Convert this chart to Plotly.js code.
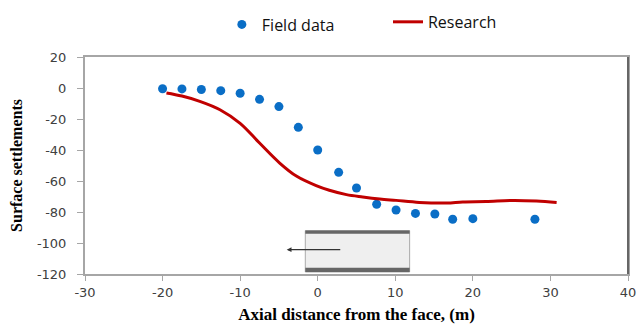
<!DOCTYPE html>
<html><head><meta charset="utf-8">
<script src="https://cdn.plot.ly/plotly-3.0.1.min.js"></script>
<style>html,body{margin:0;padding:0;background:#fff}#chart{width:638px;height:325px}</style>
</head><body><div id="chart"></div>
<script>
// Field data
var fieldX = [-20, -17.5, -15, -12.5, -10, -7.5, -5, -2.5, 0, 2.7, 5, 7.6, 10.1, 12.6, 15.1, 17.4, 20, 28];
var fieldY = [-0.5, -0.6, -1, -1.7, -3.4, -7.3, -12, -25.4, -40, -54.4, -64.5, -75, -78.7, -80.9, -81.3, -84.7, -84.3, -84.7];
// Research curve
var resX = [-19.5, -17.5, -15.2, -12.6, -10, -7.5, -4.9, -2.7, -0.2, 1.5, 3.7, 5.8, 8, 10.1, 13.1, 16.6, 18.7, 21.7, 25.2, 28.2, 30.8];
var resY = [-3.2, -5.2, -8.6, -14, -22.8, -35.5, -48.4, -57, -63, -66, -68.8, -70.3, -71.6, -72.5, -73.8, -74.2, -73.5, -73.2, -72.5, -72.9, -73.8];
var xTicks = [-30, -20, -10, 0, 10, 20, 30, 40];
var yTicks = [20, 0, -20, -40, -60, -80, -100, -120];

var traces = [
  {x: fieldX, y: fieldY, type: 'scatter', mode: 'markers', name: 'Field data',
   marker: {color: '#0A6EC6', size: 9}, legend: 'legend'},
  {x: resX, y: resY, type: 'scatter', mode: 'lines', name: 'Research',
   line: {color: '#C00000', width: 3, shape: 'spline'}, legend: 'legend2'}
];

var tickFont = {family: 'DejaVu Sans', size: 13, color: '#404040'};
var legFont = {family: 'Open Sans', size: 16, color: '#111'};
var layout = {
  width: 638, height: 325,
  margin: {l: 85, r: 10, t: 57, b: 51, autoexpand: false},
  paper_bgcolor: '#fff', plot_bgcolor: '#fff',
  showlegend: true,
  legend: {x: 0.252, y: 1.228, xanchor: 'left', yanchor: 'top', orientation: 'h',
           font: legFont, bgcolor: 'rgba(0,0,0,0)', itemwidth: 30},
  legend2: {x: 0.558, y: 1.24, xanchor: 'left', yanchor: 'top', orientation: 'h',
           font: legFont, bgcolor: 'rgba(0,0,0,0)', itemwidth: 30},
  xaxis: {range: [-30, 40], tickvals: xTicks, ticktext: xTicks.map(String), showgrid: false, zeroline: false,
          showline: true, linecolor: '#a6a6a6', linewidth: 2, mirror: true,
          ticks: 'outside', ticklen: 5, tickcolor: '#a6a6a6', tickfont: tickFont, ticklabelstandoff: 0,
          title: {text: 'Axial distance from the face, (m)', font: {family: 'Liberation Serif', size: 17, color: '#000', weight: 'bold'}, standoff: 10}},
  yaxis: {range: [-120, 20], tickvals: yTicks, ticktext: yTicks.map(String), showgrid: false, zeroline: false,
          showline: true, linecolor: '#a6a6a6', linewidth: 2, mirror: true,
          ticks: 'outside', ticklen: 6, tickcolor: '#a6a6a6', tickfont: tickFont, ticklabelstandoff: 8,
          title: {text: 'Surface settlements', font: {family: 'Liberation Serif', size: 16, color: '#000', weight: 'bold'}, standoff: 10}},
  shapes: [
    {type: 'line', xref: 'paper', yref: 'paper', x0: 1, x1: 1, y0: 0, y1: 1, line: {color: '#666', width: 2}},
    {type: 'rect', xref: 'x', yref: 'y', x0: -1.6, x1: 11.85, y0: -118.7, y1: -92, fillcolor: '#efefef', line: {color: '#aaa', width: 1}},
    {type: 'rect', xref: 'x', yref: 'y', x0: -1.6, x1: 11.85, y0: -94, y1: -92, fillcolor: '#666', line: {width: 0}},
    {type: 'rect', xref: 'x', yref: 'y', x0: -1.6, x1: 11.85, y0: -118.7, y1: -116, fillcolor: '#666', line: {width: 0}}
  ],
  annotations: [
    {x: -4, y: -104.3, ax: 3.1, ay: -104.3, xref: 'x', yref: 'y', axref: 'x', ayref: 'y', text: '',
     showarrow: true, arrowhead: 2, arrowsize: 0.8, arrowwidth: 1.2, arrowcolor: '#333'}
  ]
};
Plotly.newPlot('chart', traces, layout, {displayModeBar: false, staticPlot: true});
</script></body></html>
